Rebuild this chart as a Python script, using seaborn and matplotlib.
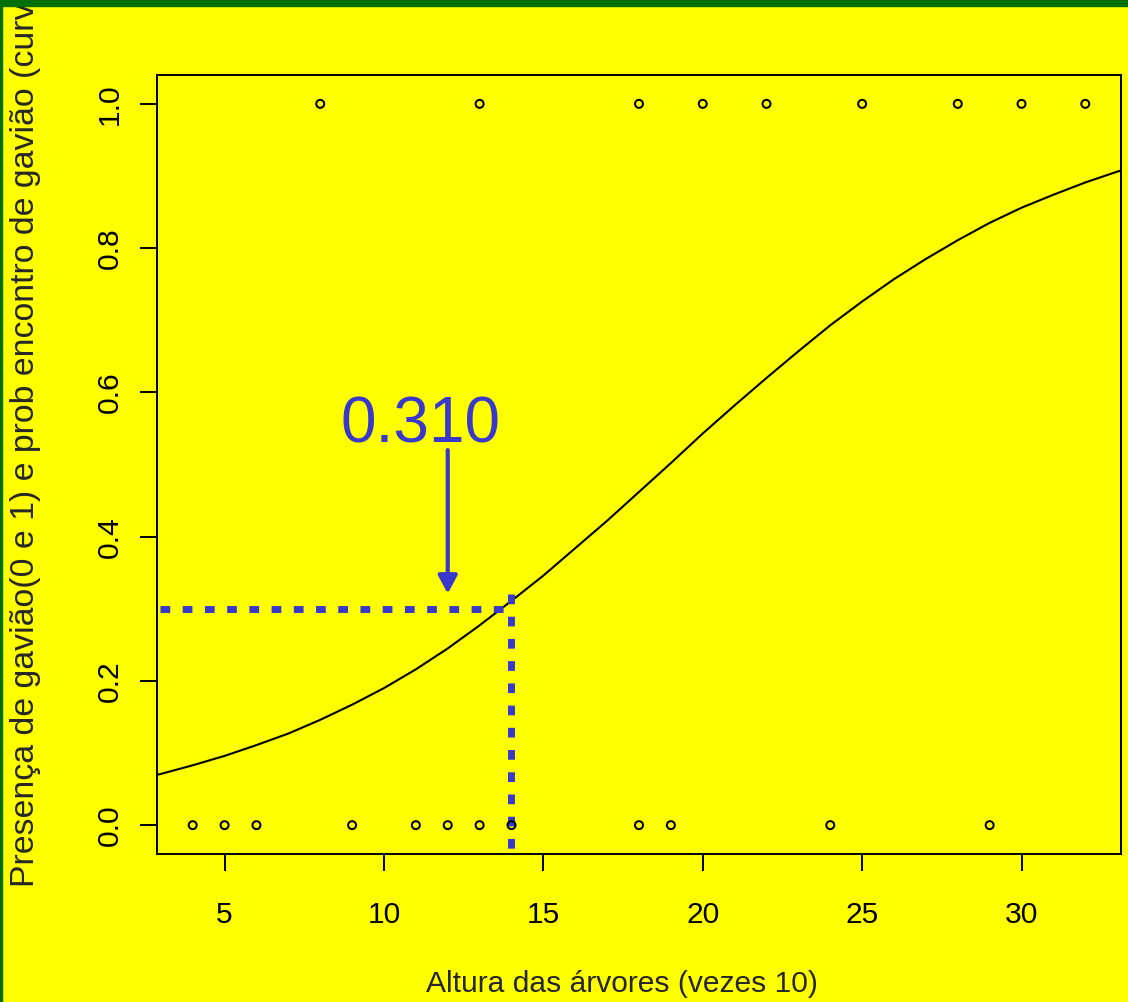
import numpy as np
import pandas as pd
import matplotlib
matplotlib.use('Agg')
import matplotlib.pyplot as plt
import seaborn as sns
from matplotlib.patches import Rectangle

# observed presence / absence of the hawk by tree height
altura_presenca = [8, 13, 18, 20, 22, 25, 28, 30, 32]
altura_ausencia = [4, 5, 6, 9, 11, 12, 13, 14, 18, 19, 24, 29]

# fitted probability curve
curva_x = [2, 3, 4, 5, 6, 7, 8, 9, 10, 11, 12, 13, 14, 15, 16, 17, 18,
           19, 20, 21, 22, 23, 24, 25, 26, 27, 28, 29, 30, 31, 32, 33, 34]
curva_p = [0.061, 0.071, 0.083, 0.096, 0.111, 0.127, 0.146, 0.167, 0.190,
           0.216, 0.245, 0.277, 0.311, 0.346, 0.384, 0.422, 0.462, 0.502,
           0.543, 0.582, 0.620, 0.657, 0.693, 0.726, 0.757, 0.785, 0.811,
           0.835, 0.856, 0.874, 0.891, 0.906, 0.919]

x_ticks = [5, 10, 15, 20, 25, 30]
y_ticks = [0.0, 0.2, 0.4, 0.6, 0.8, 1.0]
y_ticklabels = ['0.0', '0.2', '0.4', '0.6', '0.8', '1.0']

x_ref = 14
p_ref = 0.30
rotulo = '0.310'

amarelo = '#ffff00'
verde = '#007000'
azul = '#3838cc'

sns.set_style('ticks')
plt.rcParams['font.family'] = ['Liberation Sans', 'DejaVu Sans']
plt.rcParams['axes.facecolor'] = amarelo
plt.rcParams['figure.facecolor'] = amarelo

fig = plt.figure(figsize=(11.28, 10.02), dpi=100)
ax = fig.add_axes([157 / 1128, 1 - 854 / 1002, (1121 - 157) / 1128, (854 - 75) / 1002])

pts = pd.DataFrame({
    'altura': altura_presenca + altura_ausencia,
    'presenca': [1] * len(altura_presenca) + [0] * len(altura_ausencia),
})
curva = pd.DataFrame({'altura': curva_x, 'prob': curva_p})

sns.lineplot(data=curva, x='altura', y='prob', ax=ax, color='black', lw=1.5)
sns.scatterplot(data=pts, x='altura', y='presenca', ax=ax, s=33,
                facecolor='none', edgecolor='black', linewidth=1.45, zorder=3)

# reference lines
ax.plot([2.97, x_ref], [p_ref, p_ref], color=azul, lw=5, ls=(0, (1.4, 1.8)),
        dash_capstyle='butt')
ax.plot([x_ref, x_ref], [0.32, -0.1], color=azul, lw=5, ls=(0, (1.4, 1.8)),
        dash_capstyle='butt')

ax.annotate('', xy=(12, 0.321), xytext=(12, 0.52),
            arrowprops=dict(arrowstyle='-|>,head_length=0.54,head_width=0.29',
                            color=azul, lw=3, mutation_scale=20,
                            shrinkA=0, shrinkB=0))
ax.text(11.15, 0.53, rotulo, color=azul, fontsize=46, ha='center', va='baseline')

ax.set_xlim(2.88, 33.12)
ax.set_ylim(-0.04, 1.04)
ax.set_xticks(x_ticks)
ax.set_yticks(y_ticks)
ax.set_yticklabels(y_ticklabels)
ax.set_xlabel('')
ax.set_ylabel('')
for s in ax.spines.values():
    s.set_linewidth(1.4)
    s.set_color('black')
ax.tick_params(axis='both', length=12, width=1.4, labelsize=21.6, colors='black')
ax.tick_params(axis='x', pad=22)
ax.tick_params(axis='y', pad=12, labelrotation=90)
for lab in ax.get_yticklabels():
    lab.set_va('center')

fig.text(622 / 1128, 1 - 984 / 1002, 'Altura das árvores (vezes 10)',
         fontsize=21.6, ha='center', va='center')
fig.text(26 / 1128, 1 - 887 / 1002,
         'Presença de gavião(0 e 1) e prob encontro de gavião (curva)',
         fontsize=24.4, rotation=90, ha='center', va='bottom')

# green frame at top and left
fig.patches.append(Rectangle((0, 1 - 6 / 1002), 1, 6 / 1002, transform=fig.transFigure,
                             color=verde, zorder=10))
fig.patches.append(Rectangle((0, 0), 2 / 1128, 1, transform=fig.transFigure,
                             color=verde, zorder=10))

fig.savefig('out.png', dpi=100, facecolor=amarelo)
